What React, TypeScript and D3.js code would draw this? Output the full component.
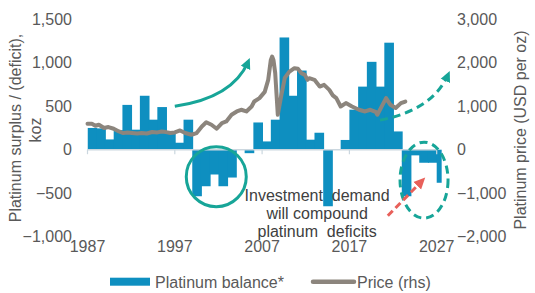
import React from "react";
import * as d3 from "d3";

// ---- Data ----
const balanceYears: number[] = [
  1987, 1988, 1989, 1990, 1991, 1992, 1993, 1994, 1995, 1996,
  1997, 1998, 1999, 2000, 2001, 2002, 2003, 2004, 2005, 2006,
  2007, 2008, 2009, 2010, 2011, 2012, 2013, 2014, 2015, 2016,
  2017, 2018, 2019, 2020, 2021, 2022, 2023, 2024, 2025, 2026, 2027,
];
const balanceKoz: number[] = [
  250, 245, 118, 225, 515, 230, 620, 345, 490, 200,
  80, 345, -535, -420, -285, -420, -320, 0, -40, 313,
  95, 345, 1290, 620, 910, 115, 195, -650, 0, 112,
  460, 725, 1010, 725, 1230, 210, -535, -65, -150, -150, -380,
];

const priceDates: number[] = [
  1987.0, 1987.5, 1987.9, 1988.3, 1988.9, 1989.4, 1990.0, 1990.6, 1991.1, 1991.6,
  1992.1, 1992.7, 1993.2, 1993.8, 1994.4, 1995.0, 1995.5, 1996.0, 1996.5, 1997.0,
  1997.6, 1998.2, 1998.9, 1999.5, 2000.1, 2000.6, 2001.2, 2001.8, 2002.4, 2002.9,
  2003.5, 2004.1, 2004.6, 2005.2, 2005.8, 2006.1, 2006.7, 2007.3, 2007.7, 2008.0,
  2008.15, 2008.3, 2008.5, 2008.8, 2009.2, 2009.6, 2010.1, 2010.7, 2011.1, 2011.5,
  2011.9, 2012.2, 2012.4, 2013.0, 2013.6, 2014.1, 2014.7, 2015.1, 2015.5, 2016.0,
  2016.6, 2017.3, 2018.1, 2018.8, 2019.4, 2020.0, 2020.2, 2020.6, 2021.2, 2021.7,
  2022.3, 2022.9, 2023.4,
];
const priceUsd: number[] = [
  596, 596, 550, 574, 498, 521, 482, 420, 383, 395,
  383, 370, 383, 372, 406, 398, 420, 405, 383, 397,
  443, 383, 344, 383, 535, 630, 574, 482, 612, 649,
  803, 879, 918, 879, 993, 1108, 1186, 1330, 1606, 2065,
  2140, 2065, 1766, 803, 1250, 1650, 1790, 1874, 1860, 1760,
  1720, 1606, 1645, 1606, 1452, 1490, 1376, 1250, 1186, 993,
  1071, 993, 918, 879, 918, 872, 803, 957, 1186, 1032,
  957, 1071, 1108,
];

const leftTicks: number[] = [-1000, -500, 0, 500, 1000, 1500];
const rightTicks: number[] = [-2000, -1000, 0, 1000, 2000, 3000];
const xTicks: number[] = [1987, 1997, 2007, 2017, 2027];
const annotationLines: string[] = ["Investment  demand", "will compound", "platinum  deficits"];

// ---- Styles ----
const BLUE = "#0e8fc0";
const GREY_LINE = "#8c857d";
const TEAL = "#17a598";
const RED = "#e8605a";
const TICK_COLOR = "#595959";
const FONT = "'Liberation Sans', Arial, sans-serif";

const W = 535;
const H = 293;

export default function App() {
  const x = d3.scaleLinear().domain([1987, 2027]).range([87.5, 436.7]);
  const yL = d3.scaleLinear().domain([-1000, 1500]).range([236.7, 19.2]);
  const yR = d3.scaleLinear().domain([-2000, 3000]).range([236.7, 19.2]);

  const priceData = priceDates.map((d, i) => [d, priceUsd[i]] as [number, number]);
  const line = d3
    .line<[number, number]>()
    .x((d) => x(d[0]))
    .y((d) => yR(d[1]))
    .curve(d3.curveLinear);

  const clipEnd = x(2027.57);
  const fmt = d3.format(",");

  // annotation anchor points (via scales)
  const solidStart = [x(1997), yL(500)];
  const solidCtrl = [x(2003.6), yL(595)];
  const solidEnd = [x(2005.4), yL(1010)];
  const dashStart = [x(2020.5), yL(340)];
  const dashCtrl = [x(2026.5), yL(455)];
  const dashEnd = [x(2028.3), yL(860)];
  const redStart = [x(2021.4), yL(-760)];
  const redEnd = [x(2025.3), yL(-360)];

  return (
    <svg
      width={W}
      height={H}
      style={{ position: "absolute", left: 0, top: 0, background: "#fff" }}
      fontFamily={FONT}
    >
      <defs>
        <clipPath id="plotClip">
          <rect x={x(1987)} y={0} width={clipEnd - x(1987)} height={H} />
        </clipPath>
        <marker id="tealHead" markerWidth="4" markerHeight="4" refX="2.2" refY="2" orient="auto" markerUnits="strokeWidth">
          <path d="M0,0.3 L3.6,2 L0,3.7 Z" fill={TEAL} />
        </marker>
        <marker id="redHead" markerWidth="4" markerHeight="4" refX="2.2" refY="2" orient="auto" markerUnits="strokeWidth">
          <path d="M0,0.2 L3.8,2 L0,3.8 Z" fill={RED} />
        </marker>
      </defs>

      {/* bars */}
      <g clipPath="url(#plotClip)">
        {balanceYears.map((yr, i) => {
          const v = balanceKoz[i];
          const x0 = x(yr);
          const x1 = x(yr + 1);
          const y0 = yL(Math.max(0, v));
          const y1 = yL(Math.min(0, v));
          return (
            <rect key={yr} x={x0} y={y0} width={x1 - x0 + 0.9} height={Math.max(0, y1 - y0)} fill={BLUE} />
          );
        })}
      </g>

      {/* x axis line and ticks */}
      <line x1={x(1987)} x2={x(2027)} y1={yL(0)} y2={yL(0)} stroke="#cbd7df" strokeWidth={1.5} />
      {xTicks.map((t) => (
        <line key={"xt" + t} x1={x(t)} x2={x(t)} y1={yL(0)} y2={yL(0) + 4.5} stroke="#cbd7df" strokeWidth={1.2} />
      ))}

      {/* price line */}
      <path d={line(priceData) || ""} fill="none" stroke={GREY_LINE} strokeWidth={4} strokeLinejoin="round" strokeLinecap="round" />

      {/* left ticks */}
      {leftTicks.map((t) => (
        <text key={"l" + t} x={72} y={yL(t) + 5.7} textAnchor="end" fontSize={16} fill={TICK_COLOR}>
          {fmt(t)}
        </text>
      ))}
      {/* right ticks */}
      {rightTicks.map((t) => (
        <text key={"r" + t} x={457} y={yR(t) + 5.7} textAnchor="start" fontSize={16} fill={TICK_COLOR}>
          {fmt(t)}
        </text>
      ))}
      {/* x ticks */}
      {xTicks.map((t) => (
        <text key={"x" + t} x={x(t)} y={252.2} textAnchor="middle" fontSize={16} fill={TICK_COLOR}>
          {t}
        </text>
      ))}

      {/* axis titles */}
      <text transform="rotate(-90)" x={-128} y={20.5} textAnchor="middle" fontSize={16} fill={TICK_COLOR}>
        Platinum surplus / (deficit),
      </text>
      <text transform="rotate(-90)" x={-130} y={40.5} textAnchor="middle" fontSize={16} fill={TICK_COLOR}>
        koz
      </text>
      <text transform="rotate(-90)" x={-130} y={526} textAnchor="middle" fontSize={16} fill={TICK_COLOR}>
        Platinum price (USD per oz)
      </text>

      {/* annotations */}
      <circle cx={x(2001.75)} cy={yL(-310)} r={30} fill="none" stroke={TEAL} strokeWidth={3} />
      <ellipse cx={x(2025.55)} cy={yL(-350)} rx={24} ry={38} fill="none" stroke={TEAL} strokeWidth={3} strokeDasharray="8 5" />
      <path
        d={`M${solidStart[0]},${solidStart[1]} Q${solidCtrl[0]},${solidCtrl[1]} ${solidEnd[0]},${solidEnd[1]}`}
        fill="none"
        stroke={TEAL}
        strokeWidth={3}
        markerEnd="url(#tealHead)"
      />
      <path
        d={`M${dashStart[0]},${dashStart[1]} Q${dashCtrl[0]},${dashCtrl[1]} ${dashEnd[0]},${dashEnd[1]}`}
        fill="none"
        stroke={TEAL}
        strokeWidth={3}
        strokeDasharray="8 5"
        markerEnd="url(#tealHead)"
      />
      <path
        d={`M${redStart[0]},${redStart[1]} L${redEnd[0]},${redEnd[1]}`}
        fill="none"
        stroke={RED}
        strokeWidth={3}
        strokeDasharray="7 4"
        markerEnd="url(#redHead)"
      />
      {annotationLines.map((s, i) => (
        <text
          key={"a" + i}
          x={x(2013.3)}
          y={200.9 + i * 18.2}
          textAnchor="middle"
          fontSize={16}
          fill="#404040"
          style={{ whiteSpace: "pre" }}
        >
          {s}
        </text>
      ))}

      {/* legend */}
      <rect x={110} y={277.7} width={40} height={8} fill={BLUE} />
      <text x={155} y={288} fontSize={16} fill={TICK_COLOR}>
        Platinum balance*
      </text>
      <line x1={313} x2={354} y1={281.7} y2={281.7} stroke={GREY_LINE} strokeWidth={4.5} strokeLinecap="round" />
      <text x={357} y={288} fontSize={16} fill={TICK_COLOR}>
        Price (rhs)
      </text>
    </svg>
  );
}
